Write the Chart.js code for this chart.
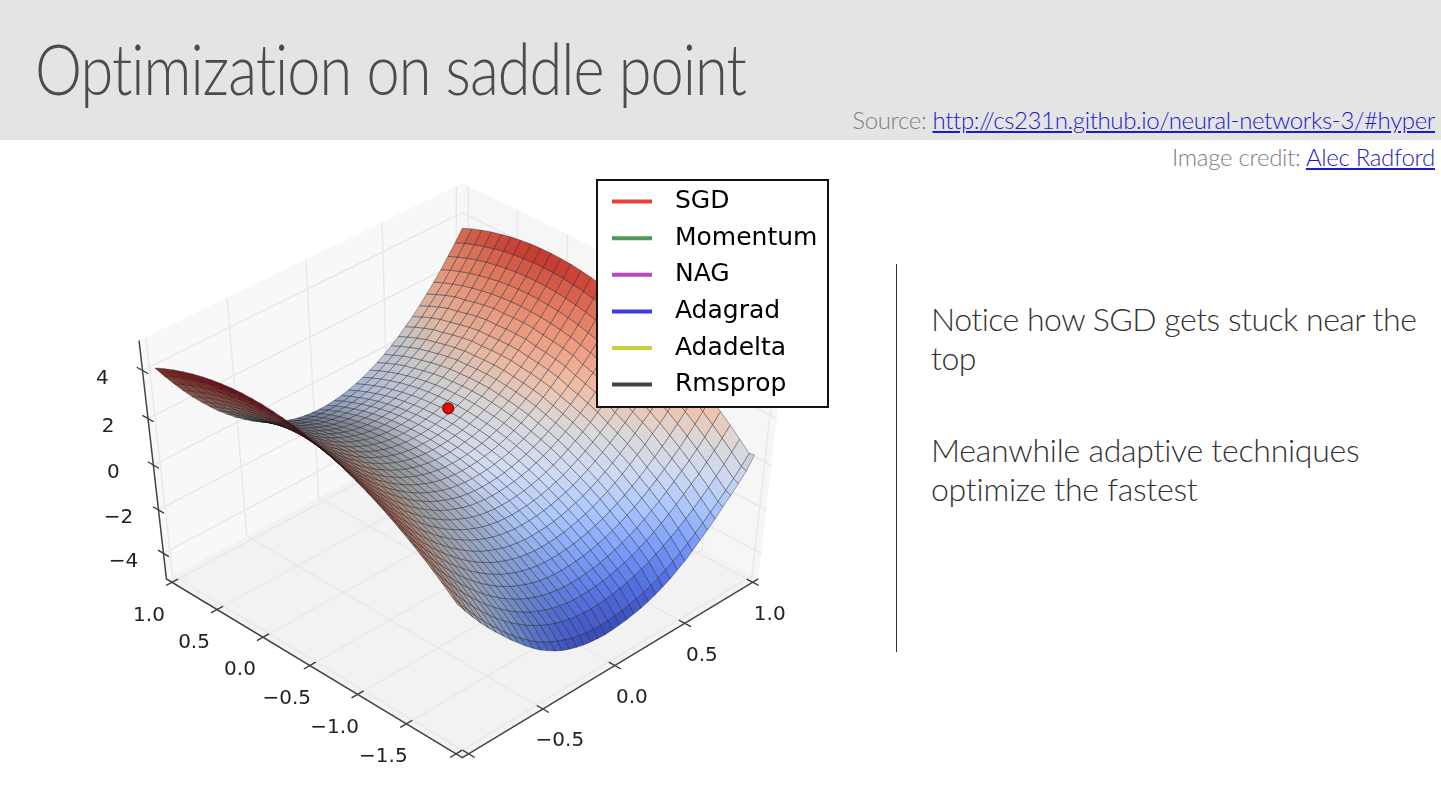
<!DOCTYPE html>
<html><head><meta charset="utf-8">
<script src="https://cdn.jsdelivr.net/npm/chart.js@4/dist/chart.umd.min.js"></script>
<style>
html,body{margin:0;padding:0;background:#fff;overflow:hidden}
#wrap{position:relative;width:1441px;height:809px;font-family:"Lato","Open Sans",sans-serif;font-weight:300}
#band{position:absolute;left:0;top:0;width:1441px;height:140px;background:#e4e4e4}
#title{position:absolute;left:35px;top:26px;font-size:70px;line-height:84px;color:#4c4c4c;letter-spacing:-1.15px;white-space:nowrap;transform:scaleX(.85);transform-origin:left center}
.src{position:absolute;right:6px;font-size:24px;line-height:30px;color:#808080;white-space:nowrap;letter-spacing:-.3px}
.src a{color:#1c1cc8;text-decoration:underline}
#rule{position:absolute;left:896px;top:264px;width:1px;height:388px;background:#333}
.note{position:absolute;left:931px;font-size:32px;line-height:39px;color:#333;white-space:nowrap}
canvas{position:absolute;left:0;top:0}
</style></head><body>
<div id="wrap">
<div id="band"></div>
<div id="title">Optimization on saddle point</div>
<div class="src" style="top:105px;letter-spacing:-.36px">Source: <a>http://cs231n.github.io/neural-networks-3/#hyper</a></div>
<div class="src" style="top:142px">Image credit: <a>Alec Radford</a></div>
<div id="rule"></div>
<div class="note" style="top:299px;letter-spacing:-.5px">Notice how SGD gets stuck near the<br>top</div>
<div class="note" style="top:430px;letter-spacing:-.25px">Meanwhile adaptive techniques<br>optimize the fastest</div>
<canvas id="c" width="1441" height="809"></canvas>
</div>
<script>
// ---- data ----
const optimizerNames = ["SGD","Momentum","NAG","Adagrad","Adadelta","Rmsprop"];
const optimizerColors = ["#e8403c","#4b9a58","#b948c0","#3c3ce6","#cfcf38","#444444"];
const sgdV = [0.27];
const sgdU = [0.05];
const sgdZ = [0.27];
const uTicks = [1.0,0.5,0.0,-0.5,-1.0,-1.5];
const uTickMarks = [1.0,0.5,0.0,-0.5,-1.0,-1.5,-2.0];
const vTicks = [1.0,0.5,0.0,-0.5];
const vTickMarks = [1.0,0.5,0.0,-0.5,-1.0];
const zTicks = [4,2,0,-2,-4];
const uValues = [1.0,0.9,0.8,0.7,0.6,0.5,0.4,0.3,0.2,0.1,0.0,-0.1,-0.2,-0.3,-0.4,-0.5,-0.6,-0.7,-0.8,-0.9,-1.0,-1.1,-1.2,-1.3,-1.4,-1.5,-1.6,-1.7,-1.8,-1.9,-1.95];
const vValues = [-1.0,-0.95,-0.9,-0.85,-0.8,-0.75,-0.7,-0.65,-0.6,-0.55,-0.5,-0.45,-0.4,-0.35,-0.3,-0.25,-0.2,-0.15,-0.1,-0.05,0.0,0.05,0.1,0.15,0.2,0.25,0.3,0.35,0.4,0.45,0.5,0.55,0.6,0.65,0.7,0.75,0.8,0.85,0.9,0.95,1.0];
const zRows = [
[4.10,3.60,3.13,2.68,2.26,1.87,1.50,1.15,.84,.54,.28,.03,-.18,-.38,-.54,-.68,-.80,-.89,-.95,-.99,-1.00,-.99,-.95,-.90,-.82,-.71,-.59,-.44,-.26,-.07,.15,.39,.66,.94,1.25,1.59,1.94,2.32,2.73,3.15,3.60],
[4.29,3.79,3.32,2.87,2.45,2.06,1.69,1.34,1.03,.73,.47,.22,.01,-.19,-.35,-.49,-.61,-.70,-.76,-.80,-.81,-.80,-.76,-.71,-.63,-.52,-.40,-.25,-.07,.12,.34,.58,.85,1.13,1.44,1.78,2.12,2.50,2.90,3.32,3.77],
[4.46,3.96,3.49,3.04,2.62,2.23,1.86,1.51,1.20,.90,.64,.39,.18,-.02,-.18,-.32,-.44,-.53,-.59,-.63,-.64,-.63,-.59,-.54,-.46,-.35,-.23,-.08,.10,.29,.51,.75,1.02,1.30,1.61,1.95,2.27,2.65,3.05,3.47,3.91],
[4.61,4.11,3.64,3.19,2.77,2.38,2.01,1.66,1.35,1.05,.79,.54,.33,.13,-.03,-.17,-.29,-.38,-.44,-.48,-.49,-.48,-.44,-.39,-.31,-.20,-.08,.07,.25,.44,.66,.90,1.17,1.45,1.76,2.10,2.41,2.78,3.18,3.59,4.04],
[4.74,4.24,3.77,3.32,2.90,2.51,2.14,1.79,1.48,1.18,.92,.67,.46,.26,.10,-.04,-.16,-.25,-.31,-.35,-.36,-.35,-.31,-.26,-.18,-.08,.05,.19,.36,.55,.77,1.00,1.26,1.54,1.85,2.17,2.52,2.89,3.29,3.70,4.14],
[4.85,4.35,3.88,3.43,3.01,2.62,2.25,1.90,1.59,1.29,1.03,.78,.57,.37,.21,.07,-.05,-.14,-.20,-.24,-.25,-.24,-.20,-.15,-.07,.03,.16,.30,.47,.66,.88,1.11,1.37,1.65,1.96,2.28,2.61,2.98,3.37,3.79,4.23],
[4.94,4.44,3.97,3.52,3.10,2.71,2.34,1.99,1.68,1.38,1.12,.87,.66,.46,.30,.16,.04,-.05,-.11,-.15,-.16,-.15,-.11,-.06,.02,.12,.25,.39,.56,.75,.97,1.20,1.46,1.74,2.05,2.37,2.69,3.06,3.44,3.86,4.29],
[5.01,4.51,4.04,3.59,3.17,2.78,2.41,2.06,1.75,1.45,1.19,.94,.73,.53,.37,.23,.11,.02,-.04,-.08,-.09,-.08,-.04,.01,.09,.19,.32,.46,.63,.82,1.04,1.27,1.53,1.81,2.12,2.44,2.74,3.11,3.49,3.90,4.34],
[5.06,4.56,4.09,3.64,3.22,2.83,2.46,2.11,1.80,1.50,1.24,.99,.78,.58,.42,.28,.16,.07,.01,-.03,-.04,-.03,0,.06,.14,.24,.36,.50,.66,.85,1.06,1.29,1.54,1.82,2.12,2.44,2.78,3.14,3.52,3.93,4.36],
[5.09,4.59,4.12,3.67,3.25,2.86,2.49,2.14,1.83,1.53,1.27,1.02,.81,.61,.45,.31,.19,.10,.04,0,-.01,0,.03,.09,.17,.27,.39,.53,.69,.88,1.09,1.32,1.57,1.85,2.15,2.47,2.79,3.15,3.53,3.94,4.37],
[5.10,4.60,4.13,3.68,3.26,2.87,2.50,2.15,1.84,1.54,1.28,1.03,.82,.62,.46,.32,.20,.11,.05,.01,0,.01,.04,.10,.18,.28,.40,.54,.70,.89,1.10,1.33,1.58,1.86,2.16,2.48,2.78,3.14,3.52,3.93,4.35],
[5.09,4.59,4.12,3.67,3.25,2.86,2.49,2.14,1.83,1.53,1.27,1.02,.81,.61,.45,.31,.19,.10,.04,0,-.01,0,.03,.09,.17,.27,.39,.53,.69,.88,1.09,1.32,1.57,1.85,2.15,2.45,2.76,3.11,3.49,3.89,4.32],
[5.06,4.56,4.09,3.64,3.22,2.83,2.46,2.11,1.80,1.50,1.24,.99,.78,.58,.42,.28,.16,.07,.01,-.03,-.04,-.03,0,.06,.13,.23,.35,.49,.65,.83,1.04,1.26,1.51,1.78,2.07,2.38,2.71,3.07,3.44,3.84,4.26],
[5.01,4.51,4.04,3.59,3.17,2.78,2.41,2.06,1.75,1.45,1.19,.94,.73,.53,.37,.23,.11,.02,-.04,-.08,-.09,-.08,-.05,.01,.08,.18,.30,.44,.60,.78,.99,1.21,1.46,1.73,2.02,2.33,2.65,3.00,3.37,3.77,4.19],
[4.94,4.44,3.97,3.52,3.10,2.71,2.34,1.99,1.68,1.38,1.12,.87,.66,.46,.30,.16,.04,-.05,-.11,-.15,-.16,-.15,-.12,-.06,.01,.11,.23,.37,.53,.71,.92,1.14,1.39,1.66,1.95,2.26,2.56,2.91,3.28,3.68,4.09],
[4.85,4.35,3.88,3.43,3.01,2.62,2.25,1.90,1.59,1.29,1.03,.78,.57,.37,.21,.07,-.05,-.14,-.20,-.24,-.25,-.24,-.21,-.15,-.08,.02,.14,.28,.44,.62,.83,1.05,1.30,1.57,1.86,2.17,2.45,2.80,3.17,3.56,3.98],
[4.74,4.24,3.77,3.32,2.90,2.51,2.14,1.79,1.48,1.18,.92,.67,.46,.26,.10,-.04,-.16,-.25,-.31,-.35,-.36,-.35,-.32,-.27,-.19,-.10,.02,.15,.31,.49,.69,.91,1.15,1.41,1.70,2.00,2.33,2.67,3.04,3.43,3.84],
[4.61,4.11,3.64,3.19,2.77,2.38,2.01,1.66,1.35,1.05,.79,.54,.33,.13,-.03,-.17,-.29,-.38,-.44,-.48,-.49,-.48,-.45,-.40,-.32,-.23,-.11,.02,.18,.36,.56,.78,1.02,1.28,1.57,1.87,2.18,2.53,2.89,3.28,3.69],
[4.46,3.96,3.49,3.04,2.62,2.23,1.86,1.51,1.20,.90,.64,.39,.18,-.02,-.18,-.32,-.44,-.53,-.59,-.63,-.64,-.63,-.60,-.55,-.47,-.38,-.26,-.13,.03,.21,.41,.63,.87,1.13,1.42,1.72,2.02,2.36,2.72,3.11,3.51],
[4.29,3.79,3.32,2.87,2.45,2.06,1.69,1.34,1.03,.73,.47,.22,.01,-.19,-.35,-.49,-.61,-.70,-.76,-.80,-.81,-.80,-.77,-.72,-.64,-.55,-.43,-.30,-.14,.04,.24,.46,.70,.96,1.25,1.55,1.83,2.17,2.53,2.91,3.32],
[4.10,3.60,3.13,2.68,2.26,1.87,1.50,1.15,.84,.54,.28,.03,-.18,-.38,-.54,-.68,-.80,-.89,-.95,-.99,-1.00,-.99,-.96,-.91,-.84,-.74,-.63,-.50,-.34,-.17,.03,.24,.48,.73,1.01,1.31,1.62,1.96,2.32,2.70,3.10],
[3.89,3.39,2.92,2.47,2.05,1.66,1.29,.94,.63,.33,.07,-.18,-.39,-.59,-.75,-.89,-1.01,-1.10,-1.16,-1.20,-1.21,-1.20,-1.17,-1.12,-1.05,-.95,-.84,-.71,-.55,-.38,-.18,.03,.27,.52,.80,1.10,1.40,1.73,2.09,2.47,2.87],
[3.66,3.16,2.69,2.24,1.82,1.43,1.06,.71,.40,.10,-.16,-.41,-.62,-.82,-.98,-1.12,-1.24,-1.33,-1.39,-1.43,-1.44,-1.43,-1.40,-1.35,-1.28,-1.18,-1.07,-.94,-.78,-.61,-.41,-.20,.04,.29,.57,.87,1.15,1.49,1.84,2.22,2.61],
[3.41,2.91,2.44,1.99,1.57,1.18,.81,.46,.15,-.15,-.41,-.66,-.87,-1.07,-1.23,-1.37,-1.49,-1.58,-1.64,-1.68,-1.69,-1.68,-1.65,-1.60,-1.53,-1.43,-1.32,-1.19,-1.03,-.86,-.66,-.45,-.21,.04,.32,.62,.89,1.22,1.57,1.94,2.34],
[3.14,2.64,2.17,1.72,1.30,.91,.54,.19,-.12,-.42,-.68,-.93,-1.14,-1.34,-1.50,-1.64,-1.76,-1.85,-1.91,-1.95,-1.96,-1.95,-1.92,-1.87,-1.80,-1.71,-1.60,-1.47,-1.32,-1.15,-.96,-.75,-.52,-.27,0,.29,.60,.93,1.28,1.65,2.04],
[2.85,2.35,1.88,1.43,1.01,.62,.25,-.10,-.41,-.71,-.97,-1.22,-1.43,-1.63,-1.79,-1.93,-2.05,-2.14,-2.20,-2.24,-2.25,-2.24,-2.21,-2.16,-2.09,-2.00,-1.89,-1.76,-1.61,-1.44,-1.25,-1.04,-.81,-.56,-.29,0,.29,.62,.97,1.34,1.73],
[2.54,2.04,1.57,1.12,.70,.31,-.06,-.41,-.72,-1.02,-1.28,-1.53,-1.74,-1.94,-2.10,-2.24,-2.36,-2.45,-2.51,-2.55,-2.56,-2.55,-2.52,-2.47,-2.40,-2.31,-2.20,-2.07,-1.92,-1.75,-1.56,-1.35,-1.12,-.87,-.60,-.31,-.03,.29,.64,1.00,1.39],
[2.21,1.71,1.24,.79,.37,-.02,-.39,-.74,-1.05,-1.35,-1.61,-1.86,-2.07,-2.27,-2.43,-2.57,-2.69,-2.78,-2.84,-2.88,-2.89,-2.88,-2.85,-2.80,-2.73,-2.64,-2.53,-2.40,-2.25,-2.08,-1.89,-1.68,-1.45,-1.20,-.93,-.64,-.38,-.05,.29,.65,1.04],
[1.86,1.36,.89,.44,.02,-.37,-.74,-1.09,-1.40,-1.70,-1.96,-2.21,-2.42,-2.62,-2.78,-2.92,-3.04,-3.13,-3.19,-3.23,-3.24,-3.23,-3.20,-3.15,-3.08,-3.00,-2.89,-2.76,-2.62,-2.45,-2.26,-2.06,-1.84,-1.59,-1.33,-1.05,-.74,-.42,-.08,.28,.66],
[1.49,.99,.52,.07,-.35,-.74,-1.11,-1.49,-1.82,-2.14,-2.42,-2.69,-2.91,-3.11,-3.27,-3.41,-3.53,-3.62,-3.68,-3.72,-3.73,-3.72,-3.69,-3.64,-3.57,-3.49,-3.38,-3.25,-3.10,-2.92,-2.72,-2.51,-2.27,-2.00,-1.72,-1.42,-1.13,-.81,-.47,-.11,.27],
[1.30,.80,.33,-.12,-.54,-.93,-1.30,-1.68,-2.02,-2.36,-2.66,-2.95,-3.18,-3.40,-3.58,-3.72,-3.84,-3.93,-3.99,-4.03,-4.05,-4.03,-4.00,-3.95,-3.88,-3.80,-3.69,-3.56,-3.40,-3.22,-3.00,-2.78,-2.50,-2.20,-1.92,-1.61,-1.25,-.93,-.58,-.20,.32]
];

// ---- view settings ----
const vLim=[-1.0417,1.0417], uLim=[-2.0625,1.0625], zLim=[-5.21,5.21];
const elev=45*Math.PI/180, dist=8, cx=460, cy=466, sx=441, sy=342;
const coolwarm=[[0,59,76,192],[.1,85,114,230],[.2,124,158,248],[.3,170,199,253],[.4,210,219,244],[.5,221,220,220],[.6,245,196,173],[.7,246,163,134],[.8,235,125,98],[.9,210,62,52],[1,180,4,38]];

function project(v,u,z){
  const a=(v-vLim[0])/(vLim[1]-vLim[0])-.5, b=(u-uLim[0])/(uLim[1]-uLim[0])-.5, c=(z-zLim[0])/(zLim[1]-zLim[0])-.5;
  const se=Math.sin(elev), ce=Math.cos(elev), k=Math.SQRT1_2;
  const toEye=-k*ce*a-k*ce*b+se*c;
  const f=dist/(dist-toEye);
  return {x:cx+sx*f*k*(a-b), y:cy-sy*f*(k*se*(a+b)+ce*c), depth:toEye};
}
function pt(v,u,z){const p=project(v,u,z);return {x:p.x,y:p.y};}
function cmap(t){
  t=Math.max(0,Math.min(1,t));
  for(let i=1;i<coolwarm.length;i++){
    if(t<=coolwarm[i][0]){
      const A=coolwarm[i-1],B=coolwarm[i],w=(t-A[0])/(B[0]-A[0]);
      return [1,2,3].map(j=>A[j]+(B[j]-A[j])*w);
    }
  }
  return coolwarm[coolwarm.length-1].slice(1);
}
const line=(data,color,width)=>({data,showLine:true,borderColor:color,borderWidth:width,pointRadius:0,fill:false,tension:0});
const poly=(data,fillC,edge,width)=>({data,showLine:true,fill:'shape',backgroundColor:fillC,borderColor:edge,borderWidth:width,pointRadius:0,tension:0});

// surface cells
const zAll=zRows.flat(), zLo=Math.min(...zAll), zHi=Math.max(...zAll);
const cells=[];
for(let i=0;i<uValues.length-1;i++)for(let j=0;j<vValues.length-1;j++){
  const u0=uValues[i],u1=uValues[i+1],v0=vValues[j],v1=vValues[j+1];
  const z00=zRows[i][j],z01=zRows[i][j+1],z10=zRows[i+1][j],z11=zRows[i+1][j+1];
  const d1=[v1-v0,0,(z01+z11-z00-z10)/2], d2=[0,u1-u0,(z10+z11-z00-z01)/2];
  let n=[d1[1]*d2[2]-d1[2]*d2[1],d1[2]*d2[0]-d1[0]*d2[2],d1[0]*d2[1]-d1[1]*d2[0]];
  if(n[2]<0)n=n.map(x=>-x);
  const m=Math.hypot(...n);
  const shade=(-n[0]-n[1]+.5*n[2])/m;
  const c=[project(v0,u0,z00),project(v1,u0,z01),project(v1,u1,z11),project(v0,u1,z10)];
  cells.push({c,shade,zm:(z00+z01+z10+z11)/4,depth:(c[0].depth+c[1].depth+c[2].depth+c[3].depth)/4});
}
const sMin=Math.min(...cells.map(c=>c.shade)), sMax=Math.max(...cells.map(c=>c.shade));
cells.sort((a,b)=>b.depth-a.depth);
const surface=cells.map(q=>{
  const k=.5+.5*Math.pow((q.shade-sMin)/(sMax-sMin),.65);
  const rgb=cmap((q.zm-zLo)/(zHi-zLo)).map(x=>Math.round(x*k));
  const P=q.c.map(p=>({x:p.x,y:p.y}));P.push(P[0]);
  return poly(P,`rgb(${rgb})`,'rgba(15,15,25,.6)',.6);
});

// panes, grid, axes
const [v0,v1]=vLim,[u0,u1]=uLim,[z0,z1]=zLim;
const panes=[
 poly([pt(v0,u0,z0),pt(v1,u0,z0),pt(v1,u1,z0),pt(v0,u1,z0),pt(v0,u0,z0)],'#f2f2f2','rgba(0,0,0,0)',0),
 poly([pt(v1,u0,z0),pt(v1,u1,z0),pt(v1,u1,z1),pt(v1,u0,z1),pt(v1,u0,z0)],'#f6f6f6','rgba(0,0,0,0)',0),
 poly([pt(v0,u1,z0),pt(v1,u1,z0),pt(v1,u1,z1),pt(v0,u1,z1),pt(v0,u1,z0)],'#f8f8f8','rgba(0,0,0,0)',0)
];
const gridC='#e8e8e8',gridW=1.4,grid=[];
uTickMarks.forEach(u=>{grid.push(line([pt(v0,u,z0),pt(v1,u,z0),pt(v1,u,z1)],gridC,gridW));});
vTickMarks.forEach(v=>{grid.push(line([pt(v,u0,z0),pt(v,u1,z0),pt(v,u1,z1)],gridC,gridW));});
zTicks.forEach(z=>{grid.push(line([pt(v0,u1,z),pt(v1,u1,z),pt(v1,u0,z)],gridC,gridW));});
const axC='#444',axes=[
 line([pt(v0,u1,z1),pt(v0,u1,z0),pt(v0,u0,z0),pt(v1,u0,z0)],axC,1.5)
];
uTickMarks.forEach(u=>axes.push(line([pt(v0-.04,u,z0),pt(v0+.04,u,z0)],'#333',1.3)));
vTickMarks.forEach(v=>axes.push(line([pt(v,u0-.06,z0),pt(v,u0+.06,z0)],'#333',1.3)));
zTicks.forEach(z=>axes.push(line([pt(v0,u1+.06,z),pt(v0,u1-.06,z)],'#333',1.3)));

const optimizers=optimizerNames.map((name,i)=>({
  label:name,
  data:i===0?sgdV.map((v,k)=>pt(v,sgdU[k],sgdZ[k])):[],
  backgroundColor:optimizerColors[i],borderColor:optimizerColors[i],borderWidth:0,
  showLine:false,pointStyle:'circle',pointRadius:5.5,
  pointBackgroundColor:'#f00000',pointBorderColor:'#500000',pointBorderWidth:1
}));

const fmt=t=>(t<0?'\u2212':'')+Math.abs(t).toFixed(1);
const axisText={
 id:'axisText',
 afterDatasetsDraw(chart){
  const {ctx,scales:{x,y}}=chart;
  ctx.save();
  ctx.font='20px "DejaVu Sans"';ctx.fillStyle='#222';ctx.textAlign='center';ctx.textBaseline='middle';
  const put=(p,t,dx,dy)=>ctx.fillText(t,x.getPixelForValue(p.x)+dx,y.getPixelForValue(p.y)+dy);
  uTicks.forEach(u=>put(pt(v0,u,z0),fmt(u),-23,33));
  vTicks.forEach(v=>put(pt(v,u0,z0),fmt(v),17,32));
  zTicks.forEach(z=>put(pt(v0,u1,z),(z<0?'\u2212':'')+Math.abs(z),-40,8));
  // legend frame and entries above the surface
  ctx.fillStyle='#fff';ctx.strokeStyle='#111';ctx.lineWidth=2;
  ctx.fillRect(597,180,231,227);ctx.strokeRect(597,180,231,227);
  ctx.restore();
  chart.legend.draw();
 }
};
const placeLegend={
 id:'placeLegend',
 afterLayout(chart){
  const L=chart.legend;
  L.left=600.4;L.right=828;L.top=177.5;L.bottom=413;L.width=228;L.height=236;
 }
};
new Chart(document.getElementById('c'),{
 type:'scatter',
 data:{datasets:[...optimizers,...axes,...surface,...grid,...panes]},
 plugins:[axisText,placeLegend],
 options:{
  responsive:false,animation:false,devicePixelRatio:1,
  layout:{padding:0},
  events:[],
  scales:{
   x:{type:'linear',min:0,max:1441,display:false},
   y:{type:'linear',min:0,max:809,reverse:true,display:false}
  },
  plugins:{
   tooltip:{enabled:false},
   title:{display:false},
   legend:{
    display:true,position:'chartArea',align:'start',
    labels:{
     boxWidth:40,boxHeight:4,padding:11.6,color:'#111',
     font:{family:'"DejaVu Sans"',size:25},
     generateLabels(chart){
      return optimizerNames.map((n,i)=>({text:'\u00A0\u200A'+n,fillStyle:optimizerColors[i],strokeStyle:optimizerColors[i],lineWidth:0,datasetIndex:i,hidden:false}));
     }
    }
   }
  }
 }
});
</script>
</body></html>
